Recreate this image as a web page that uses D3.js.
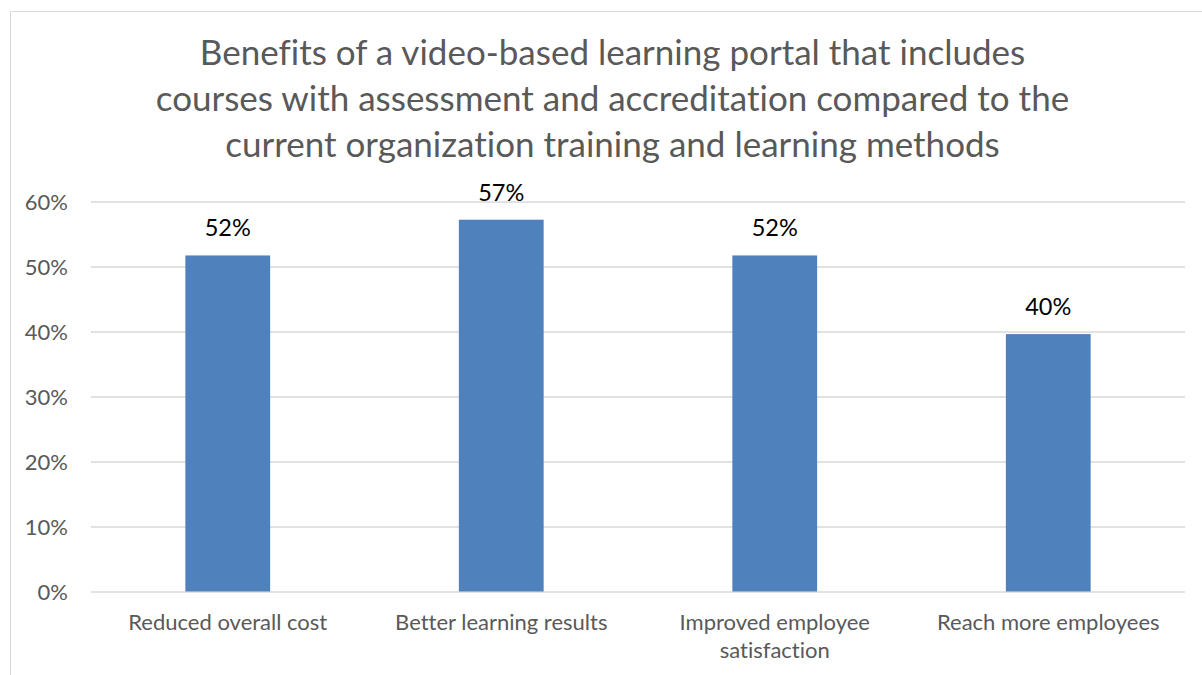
<!DOCTYPE html>
<html>
<head>
<meta charset="utf-8">
<script src="https://cdn.jsdelivr.net/npm/d3@7"></script>
<style>
  html, body { margin: 0; padding: 0; background: #fff; }
  svg { display: block; font-family: "Lato", "Liberation Sans", sans-serif; font-variant-ligatures: none; }
</style>
</head>
<body>
<svg id="chart" width="1202" height="675"></svg>
<script>
const titleLines = [
  "Benefits of a video-based learning portal that includes",
  "courses with assessment and accreditation compared to the",
  "current organization training and learning methods"
];
const categories = [
  "Reduced overall cost",
  "Better learning results",
  "Improved employee satisfaction",
  "Reach more employees"
];
const categoryLines = [
  ["Reduced overall cost"],
  ["Better learning results"],
  ["Improved employee", "satisfaction"],
  ["Reach more employees"]
];
const values = [0.517, 0.572, 0.517, 0.396];
const valueLabels = ["52%", "57%", "52%", "40%"];
const yTicks = [0, 0.1, 0.2, 0.3, 0.4, 0.5, 0.6];

const svg = d3.select("#chart");
const W = 1202, H = 675;
const plot = { left: 91, right: 1185, top: 201.5, bottom: 591.5 };

// chart border
svg.append("rect")
  .attr("x", 10.5).attr("y", 11.5)
  .attr("width", W + 20).attr("height", H + 20)
  .attr("fill", "#fff").attr("stroke", "#d9d9d9").attr("stroke-width", 1);

// title
svg.append("g").selectAll("text").data(titleLines).join("text")
  .attr("x", 612.5)
  .attr("y", (d, i) => 65 + i * 46)
  .attr("text-anchor", "middle")
  .attr("fill", "#595959")
  .attr("font-size", 35)
  .text(d => d);

const x = d3.scaleBand().domain(categories).range([plot.left, plot.right]).paddingInner(0.69).paddingOuter(0.345);
const y = d3.scaleLinear().domain([0, 0.6]).range([plot.bottom, plot.top]);

// gridlines
const yAxis = d3.axisLeft(y).tickValues(yTicks).tickFormat(d3.format(".0%")).tickSize(-(plot.right - plot.left)).tickPadding(23);
const gy = svg.append("g").attr("transform", `translate(${plot.left},0)`).call(yAxis);
gy.select(".domain").remove();
gy.selectAll(".tick line").attr("stroke", "#d9d9d9").attr("stroke-width", 1.3);
gy.selectAll(".tick text").attr("fill", "#595959").attr("font-size", 22).attr("font-family", "Lato").attr("dy", "0.35em");

// bars
svg.append("g").selectAll("rect").data(values).join("rect")
  .attr("x", (d, i) => x(categories[i]))
  .attr("width", x.bandwidth())
  .attr("y", d => y(d))
  .attr("height", d => y(0) - y(d))
  .attr("fill", "#4f81bd");

// value labels
svg.append("g").selectAll("text").data(values).join("text")
  .attr("x", (d, i) => x(categories[i]) + x.bandwidth() / 2)
  .attr("y", d => y(d) - 19)
  .attr("text-anchor", "middle")
  .attr("fill", "#000")
  .attr("font-size", 23.5)
  .text((d, i) => valueLabels[i]);

// category labels
const xAxis = d3.axisBottom(x).tickSize(0).tickFormat("");
const gx = svg.append("g").attr("transform", `translate(0,${plot.bottom})`).call(xAxis);
gx.select(".domain").remove();
gx.selectAll(".tick").each(function(d, i) {
  const t = d3.select(this).append("text")
    .attr("text-anchor", "middle")
    .attr("fill", "#595959")
    .attr("font-size", 22)
    .attr("font-family", "Lato");
  categoryLines[i].forEach((ln, j) => {
    t.append("tspan").attr("x", 0).attr("y", 38.5 + j * 28).text(ln);
  });
});
</script>
</body>
</html>
